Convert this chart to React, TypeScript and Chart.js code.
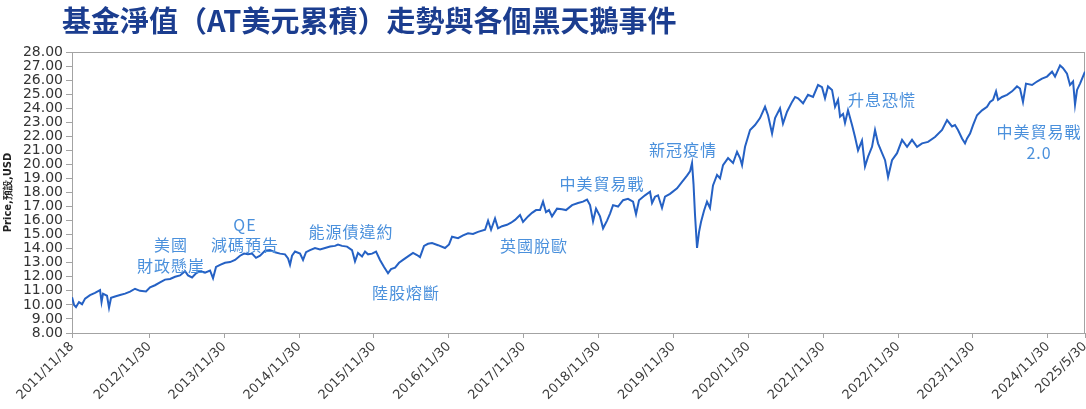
import React, { useEffect, useRef } from "react";
import { Chart, registerables } from "chart.js";

Chart.register(...registerables);

const TITLE = "基金淨值（AT美元累積）走勢與各個黑天鵝事件";
const Y_TITLE = "Price,預設,USD";

const X_TICK_LABELS = [
  "2011/11/18", "2012/11/30", "2013/11/30", "2014/11/30", "2015/11/30",
  "2016/11/30", "2017/11/30", "2018/11/30", "2019/11/30", "2020/11/30",
  "2021/11/30", "2022/11/30", "2023/11/30", "2024/11/30", "2025/5/30",
];

const Y_MIN = 8;
const Y_MAX = 28;
const Y_STEP = 1;

// NAV series: time in decimal years, price in USD
const navYears = [
  2011.880, 2011.907, 2011.933, 2011.973, 2012.014, 2012.054, 2012.120, 2012.187, 2012.254, 2012.274,
  2012.294, 2012.347, 2012.374, 2012.401, 2012.454, 2012.521, 2012.588, 2012.655, 2012.721, 2012.788,
  2012.868, 2012.922, 2012.988, 2013.055, 2013.122, 2013.189, 2013.256, 2013.322, 2013.389, 2013.429,
  2013.483, 2013.536, 2013.589, 2013.656, 2013.723, 2013.763, 2013.803, 2013.857, 2013.923, 2013.990,
  2014.057, 2014.124, 2014.177, 2014.230, 2014.284, 2014.337, 2014.391, 2014.457, 2014.524, 2014.591,
  2014.658, 2014.724, 2014.765, 2014.791, 2014.818, 2014.858, 2014.925, 2014.965, 2015.005, 2015.058,
  2015.125, 2015.192, 2015.259, 2015.326, 2015.392, 2015.432, 2015.486, 2015.553, 2015.619, 2015.659,
  2015.699, 2015.753, 2015.793, 2015.833, 2015.887, 2015.940, 2015.993, 2016.047, 2016.100, 2016.140,
  2016.194, 2016.247, 2016.300, 2016.367, 2016.434, 2016.487, 2016.527, 2016.581, 2016.634, 2016.688,
  2016.768, 2016.861, 2016.915, 2016.955, 2017.035, 2017.102, 2017.169, 2017.235, 2017.302, 2017.396,
  2017.436, 2017.476, 2017.529, 2017.569, 2017.623, 2017.689, 2017.743, 2017.796, 2017.863, 2017.903,
  2017.970, 2018.023, 2018.077, 2018.130, 2018.170, 2018.210, 2018.250, 2018.290, 2018.357, 2018.424,
  2018.477, 2018.558, 2018.638, 2018.704, 2018.758, 2018.798, 2018.838, 2018.878, 2018.931, 2018.972,
  2019.025, 2019.065, 2019.105, 2019.172, 2019.239, 2019.305, 2019.372, 2019.412, 2019.452, 2019.532,
  2019.599, 2019.626, 2019.666, 2019.706, 2019.759, 2019.799, 2019.866, 2019.960, 2020.027, 2020.093,
  2020.133, 2020.160, 2020.180, 2020.200, 2020.227, 2020.254, 2020.280, 2020.320, 2020.360, 2020.400,
  2020.440, 2020.494, 2020.534, 2020.574, 2020.641, 2020.708, 2020.761, 2020.801, 2020.828, 2020.868,
  2020.935, 2021.001, 2021.068, 2021.135, 2021.175, 2021.229, 2021.269, 2021.335, 2021.375, 2021.429,
  2021.496, 2021.536, 2021.576, 2021.643, 2021.709, 2021.776, 2021.843, 2021.896, 2021.936, 2021.976,
  2022.030, 2022.070, 2022.110, 2022.137, 2022.177, 2022.203, 2022.243, 2022.297, 2022.337, 2022.377,
  2022.430, 2022.470, 2022.511, 2022.564, 2022.604, 2022.644, 2022.698, 2022.738, 2022.778, 2022.831,
  2022.898, 2022.965, 2023.032, 2023.098, 2023.165, 2023.232, 2023.312, 2023.405, 2023.499, 2023.566,
  2023.632, 2023.672, 2023.712, 2023.766, 2023.806, 2023.833, 2023.873, 2023.913, 2023.966, 2024.033,
  2024.100, 2024.140, 2024.180, 2024.220, 2024.247, 2024.300, 2024.367, 2024.434, 2024.500, 2024.540,
  2024.580, 2024.620, 2024.701, 2024.767, 2024.834, 2024.901, 2024.968, 2025.008, 2025.075, 2025.115,
  2025.168, 2025.208, 2025.249, 2025.275, 2025.302, 2025.342, 2025.408,
];

const navPrices = [
  10.55, 10.0, 9.85, 10.2, 10.05, 10.45, 10.7, 10.85, 11.05, 10.2,
  10.8, 10.65, 9.8, 10.5, 10.6, 10.7, 10.8, 10.95, 11.15, 11.0,
  10.95, 11.25, 11.4, 11.6, 11.8, 11.85, 12.0, 12.1, 12.4, 12.1,
  11.95, 12.25, 12.4, 12.3, 12.45, 11.9, 12.7, 12.85, 13.0, 13.05,
  13.2, 13.5, 13.65, 13.6, 13.65, 13.35, 13.5, 13.85, 13.9, 13.75,
  13.65, 13.6, 13.3, 12.85, 13.5, 13.8, 13.65, 13.2, 13.75, 13.9,
  14.05, 13.95, 14.05, 14.15, 14.2, 14.3, 14.2, 14.15, 13.9, 13.1,
  13.7, 13.45, 13.8, 13.6, 13.65, 13.8, 13.2, 12.7, 12.25, 12.55,
  12.65, 13.0, 13.2, 13.45, 13.7, 13.55, 13.4, 14.2, 14.35, 14.4,
  14.25, 14.05, 14.3, 14.85, 14.75, 14.95, 15.1, 15.05, 15.2, 15.35,
  16.0, 15.35, 16.15, 15.45, 15.6, 15.7, 15.85, 16.05, 16.4, 15.9,
  16.3, 16.55, 16.75, 16.75, 17.35, 16.6, 16.75, 16.3, 16.85, 16.8,
  16.75, 17.1, 17.25, 17.35, 17.5, 17.1, 15.95, 16.85, 16.3, 15.45,
  16.0, 16.5, 17.1, 17.0, 17.45, 17.55, 17.35, 16.45, 17.45, 17.8,
  18.05, 17.25, 17.7, 17.8, 16.9, 17.7, 17.9, 18.3, 18.75, 19.2,
  19.5, 20.1, 18.6, 16.4, 14.05, 15.2, 15.9, 16.7, 17.35, 16.9,
  18.5, 19.25, 19.0, 19.95, 20.45, 20.1, 20.9, 20.45, 19.95, 21.25,
  22.45, 22.8, 23.3, 24.1, 23.5, 22.2, 23.3, 24.0, 22.9, 23.75,
  24.45, 24.8, 24.7, 24.35, 24.95, 24.8, 25.65, 25.5, 24.7, 25.55,
  25.3, 24.1, 24.6, 23.4, 23.6, 22.95, 23.85, 22.8, 21.95, 21.0,
  21.7, 19.85, 20.55, 21.25, 22.45, 21.5, 20.8, 20.3, 19.1, 20.3,
  20.8, 21.75, 21.25, 21.75, 21.25, 21.5, 21.6, 21.95, 22.45, 23.15,
  22.7, 22.8, 22.45, 21.85, 21.5, 21.85, 22.2, 22.8, 23.5, 23.85,
  24.1, 24.45, 24.6, 25.2, 24.6, 24.8, 24.95, 25.2, 25.55, 25.4,
  24.45, 25.75, 25.65, 25.9, 26.1, 26.25, 26.6, 26.25, 27.05, 26.85,
  26.45, 25.65, 25.9, 24.25, 25.3, 25.75, 26.6,
];

// Black-swan event annotations (placed in data coordinates)
const eventLabels = [
  ["美國", "財政懸崖"],
  ["QE", "減碼預告"],
  ["能源債違約"],
  ["陸股熔斷"],
  ["英國脫歐"],
  ["中美貿易戰"],
  ["新冠疫情"],
  ["升息恐慌"],
  ["中美貿易戰", "2.0"],
];
const eventYears = [2013.202, 2014.190, 2015.606, 2016.341, 2018.050, 2018.958, 2020.040, 2022.698, 2024.794];
const eventPrices = [13.52, 14.975, 15.19, 10.88, 14.23, 18.64, 21.02, 24.62, 21.56];

function dateToYear(s: string): number {
  const [y, m, d] = s.split("/").map(Number);
  const start = Date.UTC(y, 0, 1);
  const end = Date.UTC(y + 1, 0, 1);
  return y + (Date.UTC(y, m - 1, d) - start) / (end - start);
}

const X_TICK_VALUES = X_TICK_LABELS.map(dateToYear);

const TITLE_COLOR = "#1b3d8f";
const LINE_COLOR = "#2561c4";
const EVENT_COLOR = "#4a90dc";
const AXIS_COLOR = "#a3a3a3";

export default function App() {
  const canvasRef = useRef<HTMLCanvasElement | null>(null);

  useEffect(() => {
    const canvas = canvasRef.current;
    if (!canvas) return;

    const framePlugin = {
      id: "frame",
      beforeDatasetsDraw(chart: any) {
        const { ctx, chartArea } = chart;
        ctx.save();
        ctx.strokeStyle = AXIS_COLOR;
        ctx.lineWidth = 1;
        ctx.strokeRect(
          Math.round(chartArea.left) + 0.5,
          Math.round(chartArea.top) + 0.5,
          Math.round(chartArea.right - chartArea.left) - 1,
          Math.round(chartArea.bottom - chartArea.top)
        );
        ctx.restore();
      },
    };

    const eventsPlugin = {
      id: "events",
      afterDatasetsDraw(chart: any) {
        const { ctx } = chart;
        const xs = chart.scales.x;
        const ys = chart.scales.y;
        ctx.save();
        ctx.font = '16px "Noto Sans CJK TC", sans-serif';
        (ctx as any).letterSpacing = "1px";
        ctx.fillStyle = EVENT_COLOR;
        ctx.textAlign = "center";
        ctx.textBaseline = "middle";
        const lineH = 20.5;
        eventLabels.forEach((lines, i) => {
          const cx = xs.getPixelForValue(eventYears[i]);
          const cy = ys.getPixelForValue(eventPrices[i]);
          const n = lines.length;
          lines.forEach((ln, j) => {
            ctx.fillText(ln, cx, cy + (j - (n - 1) / 2) * lineH);
          });
        });
        ctx.restore();
      },
    };

    const titlePlugin = {
      id: "bigTitle",
      afterDraw(chart: any) {
        const { ctx } = chart;
        ctx.save();
        ctx.font = 'bold 29px "Noto Sans CJK TC", sans-serif';
        ctx.fillStyle = TITLE_COLOR;
        ctx.textAlign = "left";
        ctx.textBaseline = "middle";
        ctx.fillText(TITLE, 62, 21);
        ctx.restore();
      },
    };

    const chart = new Chart(canvas, {
      type: "line",
      data: {
        datasets: [
          {
            data: navYears.map((t, i) => ({ x: t, y: navPrices[i] })),
            borderColor: LINE_COLOR,
            borderWidth: 2,
            pointRadius: 0,
            tension: 0,
            fill: false,
          },
        ],
      },
      options: {
        animation: false,
        responsive: false,
        maintainAspectRatio: false,
        parsing: false as any,
        layout: { padding: { top: 52, right: 1, left: 0, bottom: 0 } },
        plugins: {
          legend: { display: false },
          tooltip: { enabled: false },
          title: { display: false },
        },
        scales: {
          x: {
            type: "linear",
            min: X_TICK_VALUES[0],
            max: X_TICK_VALUES[X_TICK_VALUES.length - 1],
            afterBuildTicks: (axis: any) => {
              axis.ticks = X_TICK_VALUES.map((v) => ({ value: v }));
            },
            afterFit: (axis: any) => {
              axis.height = 76;
              axis.paddingLeft = 0;
              axis.paddingRight = 0;
            },
            ticks: {
              autoSkip: false,
              maxRotation: 45,
              minRotation: 45,
              padding: 1,
              color: "#3c3c3c",
              font: { family: '"DejaVu Sans", sans-serif', size: 13 },
              callback: (_v: any, i: number) => X_TICK_LABELS[i],
            },
            grid: {
              display: true,
              drawOnChartArea: false,
              drawTicks: true,
              tickLength: 5,
              color: AXIS_COLOR,
            },
            border: { display: true, color: AXIS_COLOR },
          },
          y: {
            type: "linear",
            min: Y_MIN,
            max: Y_MAX,
            afterFit: (axis: any) => {
              axis.width = 72;
            },
            ticks: {
              stepSize: Y_STEP,
              autoSkip: false,
              padding: 3,
              color: "#333333",
              font: { family: '"DejaVu Sans", sans-serif', size: 14 },
              callback: (v: any) => Number(v).toFixed(2),
            },
            grid: {
              display: true,
              drawOnChartArea: false,
              drawTicks: true,
              tickLength: 6,
              color: AXIS_COLOR,
            },
            border: { display: true, color: AXIS_COLOR },
            title: {
              display: true,
              text: Y_TITLE,
              color: "#222222",
              padding: { top: 2, bottom: 0 },
              font: { family: '"DejaVu Sans", sans-serif', size: 10, weight: "bold" },
            },
          },
        },
      },
      plugins: [framePlugin, eventsPlugin, titlePlugin],
    });

    return () => chart.destroy();
  }, []);

  return (
    <div
      style={{
        position: "fixed",
        left: 0,
        top: 0,
        width: 1086,
        height: 409,
        background: "#ffffff",
        overflow: "hidden",
      }}
    >
      <canvas ref={canvasRef} width={1086} height={409} style={{ width: 1086, height: 409, display: "block" }} />
    </div>
  );
}
